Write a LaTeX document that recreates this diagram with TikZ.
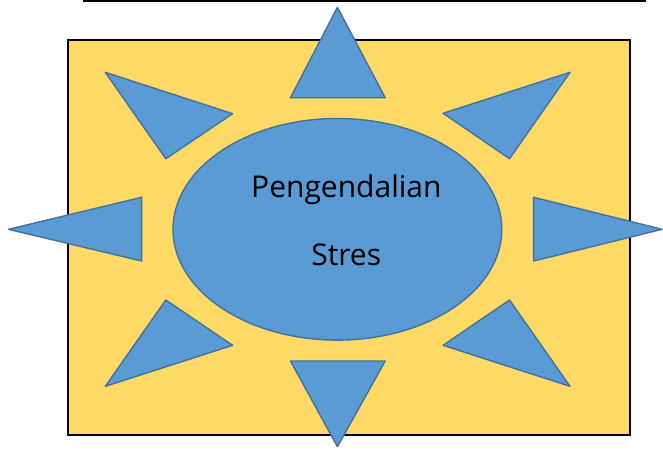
\documentclass[tikz,border=0pt]{standalone}
\usepackage{fontspec}
\setmainfont{Open Sans}
\definecolor{sunfill}{HTML}{5B9BD5}
\definecolor{sunline}{HTML}{41719C}
\definecolor{boxfill}{HTML}{FFD966}
\begin{document}
\begin{tikzpicture}[x=1pt,y=-1pt,
  ray/.style={fill=sunfill,draw=sunline,line width=1.4pt,line join=round},
  label/.style={inner sep=0pt,anchor=base,font=\fontsize{30}{34}\selectfont}]
\useasboundingbox (0,0) rectangle (663,448);
\draw[line width=1.6pt] (82.5,0.8) -- (646,0.8);
\draw[fill=boxfill,line width=2pt] (68,40) rectangle (629.5,435);
\path[ray] (337.4,7.3) -- (385.2,97.7) -- (290.5,97.7) -- cycle;
\path[ray] (337.4,446.7) -- (385.2,361) -- (290.5,361) -- cycle;
\path[ray] (105.3,72.3) -- (232.6,113.7) -- (165.8,158.7) -- cycle;
\path[ray] (570,72.3) -- (443.1,113.3) -- (509.5,158.7) -- cycle;
\path[ray] (165.8,300) -- (232.6,345.3) -- (105.3,386.3) -- cycle;
\path[ray] (509.5,300) -- (443.1,345.3) -- (570,386.3) -- cycle;
\path[ray] (8.5,229.3) -- (141.6,197.3) -- (141.6,261) -- cycle;
\path[ray] (662,229.3) -- (533.6,197.3) -- (533.6,261) -- cycle;
\path[ray] (337.4,229.3) ellipse [x radius=164.4, y radius=110.8];
\node[label] (t1) at (346.4,197.3) {Pengendalian};
\node[label] (t2) at (346.2,265) {Stres};
\end{tikzpicture}
\end{document}
